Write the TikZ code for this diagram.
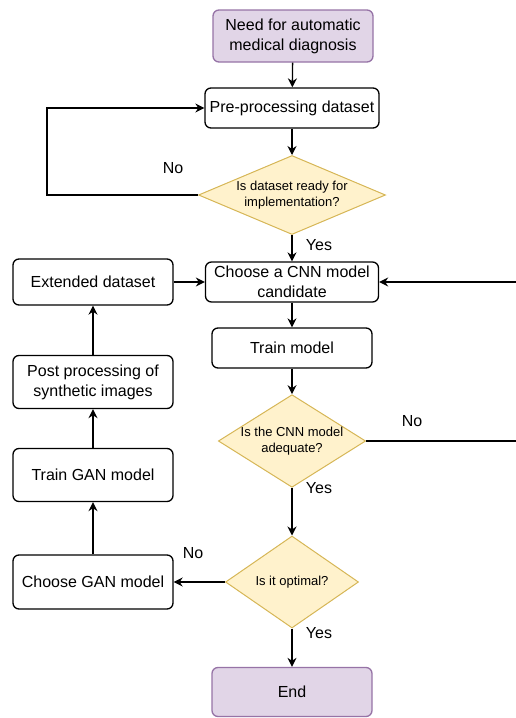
\documentclass[tikz,border=0pt]{standalone}
\usepackage{fontspec}
\setmainfont{Liberation Sans}
\usetikzlibrary{shapes.geometric,arrows.meta}
\definecolor{termfill}{HTML}{E1D5E7}
\definecolor{termline}{HTML}{9673A6}
\definecolor{decfill}{HTML}{FFF2CC}
\definecolor{decline}{HTML}{D6B656}
\begin{document}
\begin{tikzpicture}[x=1pt,y=-1pt,line width=1.3pt,
  >={Stealth[length=9pt,width=9pt]},
  box/.style={draw,rounded corners=6pt,align=center,font=\fontsize{16}{20}\selectfont,minimum width=160pt,minimum height=40pt},
  term/.style={box,fill=termfill,draw=termline},
  decision/.style={diamond,draw=decline,fill=decfill,align=center,font=\fontsize{13}{16}\selectfont,line width=1pt},
  lbl/.style={font=\fontsize{16}{20}\selectfont}]
\tikzstyle{every node}+=[inner sep=0pt]
\useasboundingbox (0,0) rectangle (515,718);
\node (start) at (293,36) [term,minimum height=52pt] {Need for automatic\\medical diagnosis};
\node (prep) at (292,108) [box,minimum width=174pt] {Pre-processing dataset};
\node (ready) at (292,195) [decision,aspect=2.37,minimum width=187pt,minimum height=79pt] {Is dataset ready for\\implementation?};
\node (cnn) at (292,282) [box,minimum width=173pt] {Choose a CNN model\\candidate};
\node (train) at (292,348) [box] {Train model};
\node (adequate) at (292,441) [decision,aspect=1.59,minimum width=146pt,minimum height=92pt] {Is the CNN model\\adequate?};
\node (optimal) at (292,582) [decision,aspect=1.45,minimum width=133pt,minimum height=92pt] {Is it optimal?};
\node (end) at (292,692) [term,minimum height=49pt] {End};
\node (ext) at (93,282) [box,minimum height=46pt] {Extended dataset};
\node (post) at (93,382) [box,minimum height=53pt] {Post processing of\\synthetic images};
\node (traingan) at (93,475) [box,minimum height=53pt] {Train GAN model};
\node (gan) at (93,582) [box,minimum height=54pt] {Choose GAN model};
\coordinate (loopL) at (47,195);
\coordinate (loopR) at (520,441);
\node (no1) at (173,168) [lbl] {No};
\node (yes1) at (319,245) [lbl] {Yes};
\node (no2) at (412,421) [lbl] {No};
\node (yes2) at (319,488) [lbl] {Yes};
\node (no3) at (193,553) [lbl] {No};
\node (yes3) at (319,633) [lbl] {Yes};
\draw [->] (start) -- (prep);
\draw [->] (prep) -- (ready);
\draw [->] (ready.west) -- (loopL) |- (prep.west);
\draw [->] (ready) -- (cnn);
\draw [->] (ext) -- (cnn);
\draw [->] (cnn) -- (train);
\draw [->] (train) -- (adequate);
\draw [->] (adequate.east) -- (loopR) |- (cnn.east);
\draw [->] (adequate) -- (optimal);
\draw [->] (optimal) -- (end);
\draw [->] (optimal.west) -- (gan.east);
\draw [->] (gan) -- (traingan);
\draw [->] (traingan) -- (post);
\draw [->] (post) -- (ext);
\end{tikzpicture}
\end{document}
